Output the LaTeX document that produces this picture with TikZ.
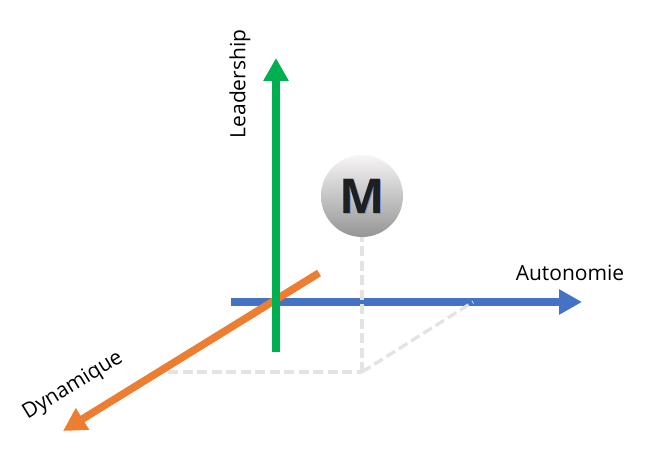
\documentclass[tikz,border=0pt]{standalone}
\usepackage{fontspec}
\setmainfont{Open Sans}
\newfontfamily\mfont{Open Sans}
\usetikzlibrary{arrows.meta}
\definecolor{axgreen}{HTML}{00B050}
\definecolor{axblue}{HTML}{4472C4}
\definecolor{axorange}{HTML}{ED7D31}
\definecolor{dashgray}{HTML}{E3E3E3}
\definecolor{sphTop}{HTML}{F7F5F5}
\definecolor{sphMid}{HTML}{D8DAE0}
\definecolor{sphBot}{HTML}{959595}
\tikzset{
  axis/.style={line width=7.5pt, -{Triangle[length=23pt,width=24pt]}},
  guide/.style={dashgray, line width=3.3pt, dash pattern=on 10pt off 4.5pt},
  lbl/.style={font=\fontsize{21}{24}\selectfont, inner sep=0pt}
}
\begin{document}
\begin{tikzpicture}[x=1pt,y=-1pt]
\useasboundingbox (0,0) rectangle (647,473);
% coordinates
\coordinate (bS) at (231,302);
\coordinate (bE) at (582,302);
\coordinate (gS) at (276,352);
\coordinate (gE) at (276,58);
\coordinate (oS) at (319,273);
\coordinate (oE) at (63,431);
\coordinate (p0) at (362,372);
\coordinate (pL) at (168,372);
\coordinate (pR) at (473,302);
% blue axis
\draw[axis, axblue] (bS) -- (bE);
% guides
\node[circle, minimum size=82pt, inner sep=0pt] (M) at (362,196) {};
\draw[guide] (pL) -- (p0);
\draw[guide] (p0) -- (pR);
\draw[guide] (p0) -- (M.south);
% orange axis
\draw[axis, axorange] (oS) -- (oE);
% green axis
\draw[axis, axgreen] (gS) -- (gE);
% sphere
\shade[top color=sphTop, middle color=sphMid, bottom color=sphBot] (M.center) circle[radius=41pt];
\node[text=axblue!75!white, font=\mfont\bfseries\fontsize{48}{50}\selectfont, inner sep=0pt] (Ms) at (363.6,197.4) {M};
\node[text=black!88, font=\mfont\bfseries\fontsize{48}{50}\selectfont, inner sep=0pt] (Mt) at (362,196) {M};
% labels
\node[lbl, rotate=90] (lead) at (240,84) {Leadership};
\node[lbl] (auto) at (570,273) {Autonomie};
\node[lbl, rotate=31.5] (dyn) at (73,386) {Dynamique};
\end{tikzpicture}
\end{document}
